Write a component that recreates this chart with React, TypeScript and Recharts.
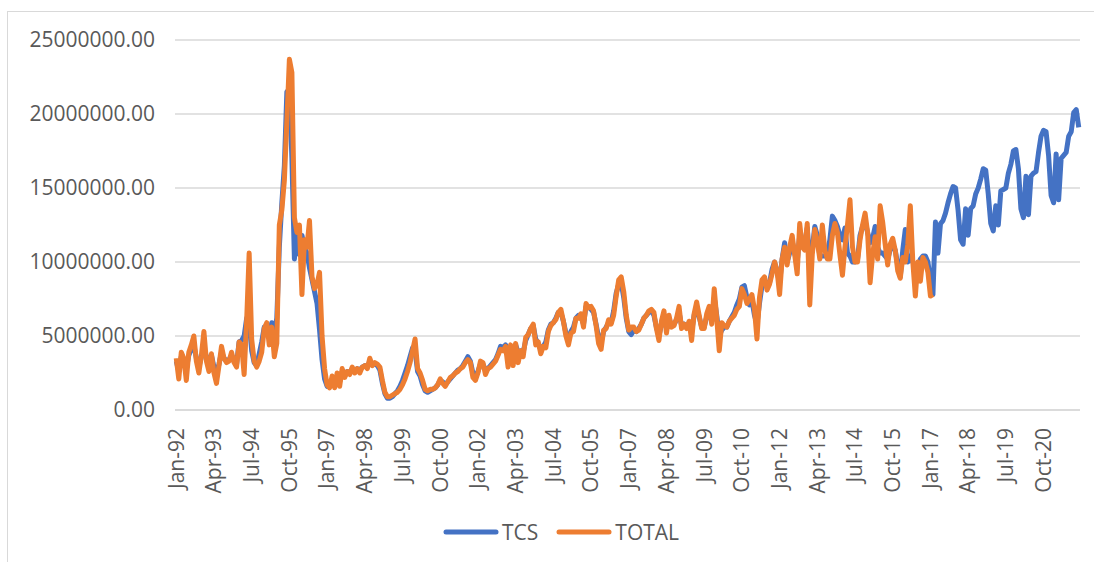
import { CartesianGrid, Legend, Line, LineChart, XAxis, YAxis } from "recharts"

// monthly values in millions, Jan-92 onwards
const TCS = [
    3.3, 2.6, 3.6, 3.4, 2.8, 3.7, 4.1, 4.4, 3.5, 2.9,
    3.6, 4.2, 3.6, 3.0, 3.7, 2.9, 2.4, 3.1, 3.9, 3.5,
    3.3, 3.4, 3.7, 3.3, 3.1, 4.6, 4.7, 5.0, 6.2, 6.0,
    4.0, 3.2, 3.0, 3.8, 4.6, 5.6, 5.6, 5.0, 5.9, 5.2,
    6.2, 11.0, 14.0, 16.5, 21.5, 21.7, 17.0, 10.2, 12.3, 10.5,
    11.8, 11.0, 10.6, 9.6, 8.8, 8.0, 7.2, 5.4, 3.4, 2.1,
    1.6, 1.7, 2.1, 1.7, 2.3, 1.9, 2.6, 2.3, 2.6, 2.5,
    2.8, 2.6, 2.8, 2.7, 2.9, 3.0, 2.9, 3.3, 3.1, 3.1,
    3.0, 2.7, 1.8, 1.1, 0.8, 0.8, 0.9, 1.1, 1.3, 1.6,
    2.0, 2.5, 3.0, 3.6, 4.2, 4.0, 2.6, 2.3, 1.7, 1.3,
    1.2, 1.3, 1.4, 1.5, 1.7, 2.0, 1.9, 1.7, 1.9, 2.1,
    2.3, 2.5, 2.7, 2.8, 3.0, 3.3, 3.6, 3.3, 2.5, 2.3,
    2.6, 3.1, 3.1, 2.7, 2.8, 3.0, 3.2, 3.4, 3.8, 4.3,
    4.2, 4.4, 4.0, 4.3, 3.8, 4.4, 3.9, 4.0, 3.9, 4.7,
    5.1, 5.5, 5.7, 4.8, 4.5, 4.1, 4.3, 4.6, 5.4, 5.8,
    5.9, 6.2, 6.6, 6.6, 6.0, 5.2, 4.8, 5.3, 5.6, 6.2,
    6.4, 6.3, 5.8, 7.0, 7.0, 6.8, 6.6, 5.8, 4.9, 4.6,
    5.3, 5.6, 5.9, 5.9, 6.7, 7.9, 8.5, 8.6, 7.6, 6.2,
    5.3, 5.1, 5.4, 5.3, 5.5, 5.8, 6.2, 6.4, 6.6, 6.7,
    6.4, 5.6, 5.0, 5.8, 6.4, 5.5, 6.2, 5.7, 5.8, 6.1,
    6.6, 5.7, 5.8, 5.6, 5.9, 5.3, 6.4, 6.9, 6.3, 5.6,
    5.6, 6.3, 6.7, 6.0, 7.6, 6.4, 5.0, 5.4, 5.6, 5.6,
    6.0, 6.3, 6.6, 7.1, 7.5, 8.3, 8.4, 7.6, 7.1, 7.4,
    6.4, 5.8, 7.2, 8.4, 8.8, 8.3, 8.6, 9.5, 10.0, 9.3,
    8.6, 10.2, 11.3, 10.0, 10.6, 11.4, 10.6, 10.0, 11.8, 11.2,
    11.3, 12.3, 10.0, 10.9, 12.4, 11.8, 10.4, 10.4, 10.4, 10.6,
    11.5, 13.1, 12.8, 12.4, 11.8, 11.5, 12.3, 10.6, 10.4, 10.0,
    10.0, 10.2, 11.8, 12.4, 12.8, 12.0, 11.3, 11.6, 12.4, 11.0,
    10.6, 10.6, 10.4, 10.2, 10.8, 11.2, 10.8, 9.8, 9.0, 10.8,
    12.2, 10.0, 10.4, 10.0, 9.5, 9.6, 10.2, 10.4, 10.4, 10.0,
    8.8, 7.8, 12.7, 10.6, 12.6, 12.8, 13.3, 14.0, 14.6, 15.1,
    15.0, 13.5, 11.5, 11.2, 13.6, 11.8, 13.6, 13.8, 14.6, 15.0,
    15.6, 16.3, 16.2, 14.6, 12.6, 12.1, 13.8, 12.5, 14.8, 14.9,
    15.0, 16.0, 16.6, 17.5, 17.6, 16.3, 13.6, 13.0, 15.8, 13.2,
    15.8, 16.0, 16.1, 17.4, 18.5, 18.9, 18.8, 17.2, 14.5, 14.0,
    17.3, 14.2, 17.0, 17.2, 17.4, 18.5, 18.8, 20.1, 20.3, 19.1,
]

// TOTAL stops in Feb-17
const TOTAL = [
    3.5, 2.1, 3.9, 3.5, 2.0, 3.9, 4.4, 5.0, 3.3, 2.5,
    3.7, 5.3, 3.3, 2.6, 3.8, 2.5, 1.8, 3.0, 4.3, 3.5,
    3.2, 3.3, 3.9, 3.2, 2.9, 4.6, 4.4, 2.4, 6.0, 10.6,
    4.8, 3.3, 2.9, 3.3, 3.9, 5.5, 5.9, 4.4, 5.6, 3.6,
    4.5, 12.5, 13.5, 15.5, 19.5, 23.7, 22.8, 13.0, 12.0, 12.5,
    7.8, 11.5, 11.0, 12.8, 9.0, 8.2, 8.5, 9.3, 5.0, 2.8,
    1.7, 1.5, 2.3, 1.5, 2.5, 1.6, 2.8, 2.2, 2.6, 2.4,
    2.9, 2.5, 2.8, 2.5, 2.9, 3.0, 2.8, 3.5, 3.0, 3.2,
    3.1, 2.9, 2.0, 1.2, 0.9, 0.9, 1.0, 1.1, 1.2, 1.4,
    1.7, 2.1, 2.6, 3.2, 4.0, 4.8, 2.8, 2.5, 2.0, 1.4,
    1.3, 1.4, 1.4, 1.5, 1.7, 2.1, 1.8, 1.6, 1.9, 2.2,
    2.3, 2.5, 2.6, 2.8, 2.9, 3.2, 3.4, 3.2, 2.2, 2.0,
    2.5, 3.3, 3.2, 2.4, 2.8, 2.9, 3.1, 3.3, 3.7, 4.1,
    4.0, 4.3, 2.9, 4.4, 3.0, 4.5, 3.2, 4.0, 3.6, 4.9,
    5.1, 5.5, 5.8, 4.4, 4.6, 3.8, 4.3, 4.2, 5.3, 5.7,
    5.9, 6.1, 6.6, 6.8, 6.0, 5.0, 4.4, 5.2, 5.3, 6.2,
    6.2, 6.5, 5.6, 7.2, 6.9, 7.0, 6.7, 5.7, 4.5, 4.1,
    5.4, 5.5, 6.1, 5.8, 6.4, 7.7, 8.8, 9.0, 8.0, 6.4,
    5.4, 5.6, 5.6, 5.3, 5.4, 5.8, 6.2, 6.4, 6.7, 6.8,
    6.6, 5.5, 4.7, 6.0, 6.7, 5.2, 6.4, 5.6, 5.7, 6.2,
    7.0, 5.5, 5.8, 5.5, 6.0, 4.7, 6.5, 7.3, 6.4, 5.5,
    5.5, 6.5, 7.0, 5.8, 8.2, 6.2, 4.0, 5.9, 5.7, 5.6,
    6.0, 6.2, 6.4, 6.8, 7.0, 8.2, 7.8, 7.2, 7.5, 7.8,
    6.8, 4.8, 7.6, 8.8, 9.0, 8.1, 8.5, 9.2, 10.0, 9.4,
    7.8, 10.2, 11.0, 9.8, 11.0, 11.8, 10.5, 9.2, 12.6, 11.0,
    10.8, 12.6, 7.1, 10.5, 12.2, 11.4, 10.2, 12.5, 10.8, 10.2,
    10.2, 11.8, 12.6, 12.0, 10.5, 9.1, 11.0, 12.5, 14.2, 11.0,
    10.0, 10.0, 11.5, 12.5, 13.3, 12.0, 8.6, 10.5, 11.7, 10.2,
    13.8, 12.7, 11.2, 9.8, 11.2, 11.6, 10.8, 9.4, 8.9, 10.3,
    10.0, 11.2, 13.8, 10.0, 7.7, 10.0, 8.7, 10.3, 10.0, 9.3,
    7.7, 7.8,
]

const MONTHS = ["Jan", "Feb", "Mar", "Apr", "May", "Jun", "Jul", "Aug", "Sep", "Oct", "Nov", "Dec"]
const START_YEAR = 1992
const Y_TICKS = [0, 5000000, 10000000, 15000000, 20000000, 25000000]
const MILLION = 1000000

const data = TCS.map((v, i) => ({
    month: `${MONTHS[i % 12]}-${String((START_YEAR + Math.floor(i / 12)) % 100).padStart(2, "0")}`,
    tcs: v * MILLION,
    total: i < TOTAL.length ? TOTAL[i] * MILLION : null,
}))

const FONT = "'Open Sans', sans-serif"
const TEXT = "#595959"
const GRID = "#d9d9d9"

function MonthTick({ x, y, payload }: any) {
    return (
        <text transform={`translate(${x},${y + 10}) rotate(-90)`} textAnchor="end" dy="0.35em"
            fontFamily={FONT} fontSize={21} fill={TEXT}>
            {payload.value}
        </text>
    )
}

function LegendContent({ payload }: any) {
    return (
        <div style={{ display: "flex", alignItems: "center", fontFamily: FONT, fontSize: 21, color: TEXT }}>
            {(payload || []).map((entry: any, idx: number) => (
                <div key={entry.value} style={{ display: "flex", alignItems: "center", marginRight: idx === 0 ? 18 : 0 }}>
                    <svg width={56} height={10}>
                        <line x1={3} x2={53} y1={5} y2={5} stroke={entry.color} strokeWidth={5} strokeLinecap="round" />
                    </svg>
                    <span style={{ marginLeft: 3 }}>{entry.value}</span>
                </div>
            ))}
        </div>
    )
}

export default function App() {
    return (
        <div style={{ position: "absolute", left: 7, top: 11, width: 1087, height: 551, borderTop: `1px solid ${GRID}`, borderLeft: `1px solid ${GRID}`, boxSizing: "border-box", background: "#fff" }}>
            <LineChart width={1078} height={550} data={data} margin={{ top: 28, right: 6, left: 0, bottom: 0 }}>
                <CartesianGrid vertical={false} stroke={GRID} strokeWidth={1.5} />
                <XAxis dataKey="month" interval={14} tickLine={false} height={152}
                    axisLine={{ stroke: GRID, strokeWidth: 1.5 }} padding={{ left: 1.25, right: 1.25 }}
                    tick={<MonthTick />} />
                <YAxis domain={[0, 25000000]} ticks={Y_TICKS} width={167} tickLine={false} axisLine={false}
                    tickMargin={14} tickFormatter={(v: number) => v.toFixed(2)}
                    tick={{ fontFamily: FONT, fontSize: 21, fill: TEXT }} />
                <Line name="TCS" dataKey="tcs" stroke="#4472C4" strokeWidth={5} dot={false}
                    strokeLinejoin="round" isAnimationActive={false} />
                <Line name="TOTAL" dataKey="total" stroke="#ED7D31" strokeWidth={5} dot={false}
                    strokeLinejoin="round" isAnimationActive={false} />
                <Legend layout="horizontal" verticalAlign="middle" align="center" content={<LegendContent />}
                    wrapperStyle={{ top: 506, left: 435, width: 320 }} />
            </LineChart>
        </div>
    )
}
